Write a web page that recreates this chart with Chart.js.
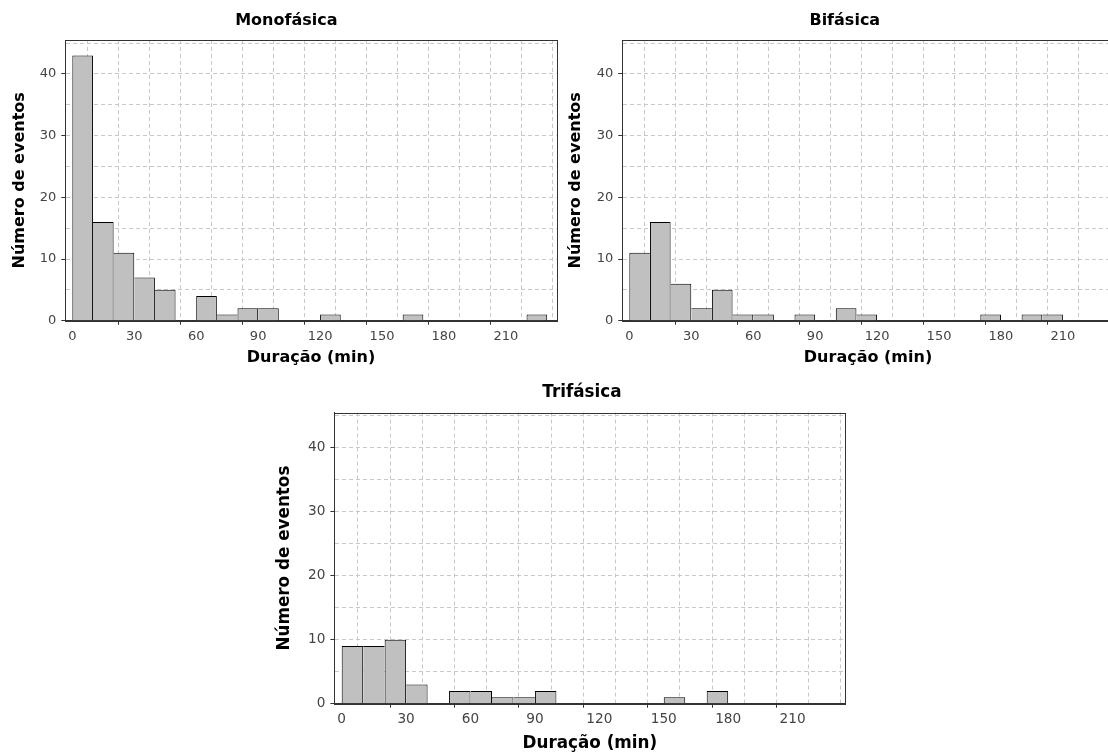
<!DOCTYPE html>
<html>
<head>
<meta charset="utf-8">
<title>Duração dos eventos</title>
<script src="https://cdn.jsdelivr.net/npm/chart.js@4.4.0/dist/chart.umd.min.js"></script>
<style>
  html, body { margin: 0; padding: 0; background: #fff; }
  #wrap { position: relative; width: 1108px; height: 756px; overflow: hidden; }
  canvas { position: absolute; }
</style>
</head>
<body>
<div id="wrap">
  <canvas id="chart-mono"></canvas>
  <canvas id="chart-bi"></canvas>
  <canvas id="chart-tri"></canvas>
</div>
<script>
// inicio de cada classe (min), largura 10 min
const binStarts = [0, 10, 20, 30, 40, 50, 60, 70, 80, 90, 100, 110, 120, 130, 140, 150, 160, 170, 180, 190, 200, 210, 220];
const binWidth = 10;

// numero de eventos por classe
const monofasica = [43, 16, 11, 7, 5, 0, 4, 1, 2, 2, 0, 0, 1, 0, 0, 0, 1, 0, 0, 0, 0, 0, 1];
const bifasica   = [11, 16, 6, 2, 5, 1, 1, 0, 1, 0, 2, 1, 0, 0, 0, 0, 0, 1, 0, 1, 1, 0, 0];
const trifasica  = [9, 9, 10, 3, 0, 2, 2, 1, 1, 2, 0, 0, 0, 0, 0, 1, 0, 2, 0, 0, 0, 0, 0];

// eixos
const xGrid = [0, 15, 30, 45, 60, 75, 90, 105, 120, 135, 150, 165, 180, 195, 210, 225];
const xTickLabels = [0, 30, 60, 90, 120, 150, 180, 210];
const yGrid = [0, 5, 10, 15, 20, 25, 30, 35, 40, 45];
const yTickLabels = [0, 10, 20, 30, 40];
const xMin = -3.4, xMax = 234.6;
const yMin = 0, yMax = 45.5;

const FONT = "'DejaVu Sans', Verdana, sans-serif";

// moldura completa em volta da area do grafico
const framePlugin = {
  id: "frame",
  afterDatasetsDraw(chart) {
    const { ctx, chartArea: a } = chart;
    const l = Math.round(a.left) + 0.5, t = Math.round(a.top) + 0.5;
    const r = Math.round(a.right) + 0.5, b = Math.round(a.bottom) + 0.5;
    ctx.save();
    ctx.strokeStyle = "#333";
    ctx.lineWidth = 1;
    ctx.strokeRect(l, t, r - l, b - t);
    ctx.restore();
  },
};

// titulo de cada painel (centrado no painel, nao na area do grafico)
const panelTitlePlugin = {
  id: "panelTitle",
  afterDraw(chart, args, opts) {
    const ctx = chart.ctx;
    ctx.save();
    ctx.font = "bold " + opts.size + "px " + FONT;
    ctx.fillStyle = "#000";
    ctx.textAlign = "center";
    ctx.textBaseline = "alphabetic";
    ctx.fillText(opts.text, opts.x, opts.y);
    ctx.restore();
  },
};

// bordas laterais: a barra mais alta desenha o lado em comum
function barBorder(c) {
  const d = c.dataset.data;
  const i = c.dataIndex;
  const h = d[i] ? d[i].y : 0;
  const prev = i > 0 ? d[i - 1].y : 0;
  const next = i < d.length - 1 ? d[i + 1].y : 0;
  return { top: 1, bottom: 0, left: h > prev ? 1 : 0, right: h >= next ? 1 : 0 };
}

function renderHistogram(p) {
  const canvas = document.getElementById(p.id);
  canvas.width = p.box.w;
  canvas.height = p.box.h;
  canvas.style.left = p.box.left + "px";
  canvas.style.top = p.box.top + "px";

  const k = p.fontScale;
  const lh = 16 * k * 1.2;
  const points = binStarts.map((s, i) => ({ x: s + binWidth / 2, y: p.counts[i] }));

  new Chart(canvas, {
    type: "bar",
    data: {
      datasets: [
        {
          label: p.title,
          data: points,
          backgroundColor: "#c0c0c0",
          borderColor: "#000",
          borderWidth: barBorder,
          borderSkipped: "start",
          inflateAmount: 0,
          barPercentage: 1,
          categoryPercentage: 1,
        },
      ],
    },
    plugins: [framePlugin, panelTitlePlugin],
    options: {
      responsive: false,
      animation: false,
      devicePixelRatio: 1,
      layout: {
        padding: {
          left: 0,
          top: p.area.top - p.box.top,
          right: p.box.left + p.box.w - p.area.right,
          bottom: 0,
        },
      },
      plugins: {
        legend: { display: false },
        tooltip: { enabled: false },
        title: { display: false },
        panelTitle: {
          text: p.title,
          x: p.titleX - p.box.left,
          y: p.titleY - p.box.top,
          size: 16 * k,
        },
      },
      scales: {
        x: {
          type: "linear",
          min: xMin,
          max: xMax,
          offset: false,
          afterBuildTicks: (s) => { s.ticks = xGrid.map((v) => ({ value: v })); },
          afterFit: (s) => { s.height = p.box.top + p.box.h - p.area.bottom; },
          grid: {
            color: "#c8c8c8",
            borderDash: [4, 3],
            tickLength: 4,
            tickWidth: 1,
            tickBorderDash: [],
            tickColor: (c) => (c.tick && xTickLabels.includes(c.tick.value) ? "#333" : "transparent"),
          },
          border: { display: true, color: "#333", width: 1, dash: [4, 3] },
          ticks: {
            autoSkip: false,
            maxRotation: 0,
            padding: 4,
            color: "#444",
            font: { family: FONT, size: 13 * k },
            callback: (v) => (xTickLabels.includes(v) ? String(v) : ""),
          },
          title: {
            display: true,
            text: "Duração (min)",
            color: "#000",
            font: { family: FONT, size: 16 * k, weight: "bold" },
            padding: { top: 0, bottom: p.xTitlePad },
          },
        },
        y: {
          type: "linear",
          min: yMin,
          max: yMax,
          afterBuildTicks: (s) => { s.ticks = yGrid.map((v) => ({ value: v })); },
          afterFit: (s) => { s.width = p.area.left - p.box.left; },
          grid: {
            color: (c) => (c.tick && c.tick.value === 0 ? "transparent" : "#c8c8c8"),
            borderDash: [4, 3],
            tickLength: 4,
            tickWidth: 1,
            tickBorderDash: [],
            tickColor: (c) => (c.tick && yTickLabels.includes(c.tick.value) ? "#333" : "transparent"),
          },
          border: { display: true, color: "#333", width: 1, dash: [4, 3] },
          ticks: {
            autoSkip: false,
            padding: 5,
            color: "#444",
            font: { family: FONT, size: 13 * k },
            callback: (v) => (yTickLabels.includes(v) ? String(v) : ""),
          },
          title: {
            display: true,
            text: "Número de eventos",
            color: "#000",
            font: { family: FONT, size: 16 * k, weight: "bold" },
            padding: { top: p.yTitleMid - p.box.left - lh / 2, bottom: 0 },
          },
        },
      },
    },
  });
}

renderHistogram({
  id: "chart-mono", title: "Monofásica", counts: monofasica,
  box: { left: 0, top: 0, w: 572, h: 370 },
  area: { left: 65.3, top: 40, right: 556.7, bottom: 320.7 },
  titleX: 286.3, titleY: 25, yTitleMid: 19.5, xTitlePad: 2.6, fontScale: 1,
});

renderHistogram({
  id: "chart-bi", title: "Bifásica", counts: bifasica,
  box: { left: 557.2, top: 0, w: 572, h: 370 },
  area: { left: 622.5, top: 40, right: 1113.9, bottom: 320.7 },
  titleX: 845, titleY: 25, yTitleMid: 576.2, xTitlePad: 2.6, fontScale: 1,
});

renderHistogram({
  id: "chart-tri", title: "Trifásica", counts: trifasica,
  box: { left: 268, top: 372, w: 600, h: 384 },
  area: { left: 334.4, top: 412.5, right: 845.4, bottom: 703.7 },
  titleX: 582, titleY: 397, yTitleMid: 284.8, xTitlePad: 1.9, fontScale: 1.05,
});
</script>
</body>
</html>
